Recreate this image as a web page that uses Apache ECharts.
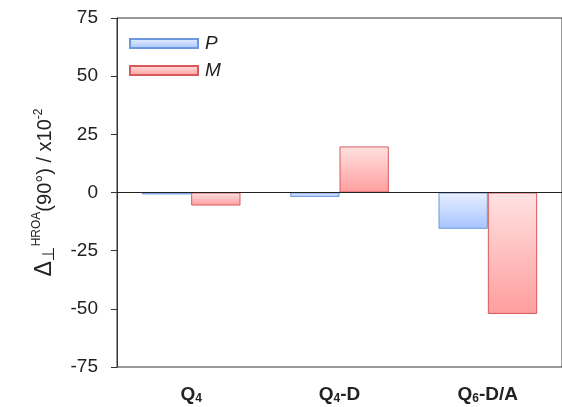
<!DOCTYPE html>
<html><head><meta charset="utf-8">
<script src="https://cdn.jsdelivr.net/npm/echarts@6/dist/echarts.min.js"></script>
<style>html,body{margin:0;padding:0;background:#fff}#c{width:562px;height:407px}</style>
</head><body><div id="c"></div>
<script>
const categories = ['Q4', 'Q4-D', 'Q6-D/A'];
const categoryLabels = ['{b|Q}{s|4}', '{b|Q}{s|4}{b|-D}', '{b|Q}{s|6}{b|-D/A}'];
const seriesP = [-0.8, -1.9, -15.6];
const seriesM = [-5.6, 19.8, -52.2];
const yTicks = [-75, -50, -25, 0, 25, 50, 75];

const chart = echarts.init(document.getElementById('c'));
function grad(a, b) {
  return new echarts.graphic.LinearGradient(0, 0, 0, 1, [{offset: 0, color: a}, {offset: 1, color: b}]);
}
const FF = 'Liberation Sans, Arial, sans-serif';
chart.setOption({
  animation: false,
  grid: {left: 117, top: 18, width: 454, height: 349, show: true, borderColor: '#333', borderWidth: 1, backgroundColor: 'transparent'},
  legend: {
    left: 124, top: 29, orient: 'vertical', itemWidth: 68, itemHeight: 9, itemGap: 8,
    icon: 'rect',
    textStyle: {fontFamily: FF, fontSize: 19, fontStyle: 'italic', color: '#222', padding: [0, 0, 0, 2]},
    data: ['P', 'M']
  },
  xAxis: {
    type: 'category', data: categories,
    axisLine: {show: false}, axisTick: {show: false},
    axisLabel: {
      margin: 17,
      formatter: (v, i) => categoryLabels[i],
      rich: {
        b: {fontFamily: FF, fontSize: 19, fontWeight: 'bold', color: '#222'},
        s: {fontFamily: FF, fontSize: 12, fontWeight: 'bold', color: '#222', padding: [9, 0, 0, 0]}
      }
    }
  },
  yAxis: {
    type: 'value', min: -75, max: 75, interval: 25,
    axisLine: {show: true, lineStyle: {color: '#333'}},
    axisTick: {show: true, length: 6, lineStyle: {color: '#333'}},
    splitLine: {show: false},
    axisLabel: {margin: 19, fontFamily: FF, fontSize: 19, color: '#222',
      formatter: v => yTicks.includes(v) ? String(v) : ''},
    name: '{d|Δ}{sub|⊥}{sup|HROA}{n|(90°) / x10}{sup2|-2}',
    nameLocation: 'middle', nameGap: 58, nameRotate: 90,
    nameTextStyle: {
      rich: {
        d: {fontFamily: FF, fontSize: 23, color: '#222'},
        sub: {fontFamily: 'DejaVu Sans', fontSize: 17, color: '#222', padding: [10, 0, 0, 0]},
        sup: {fontFamily: FF, fontSize: 12, color: '#222', padding: [0, 0, 16, 0]},
        sup2: {fontFamily: FF, fontSize: 12, color: '#222', padding: [0, 0, 12, 0]},
        n: {fontFamily: FF, fontSize: 20, color: '#222'}
      }
    }
  },
  series: [
    {name: 'P', type: 'bar', data: seriesP, barGap: '0%', barCategoryGap: '33.5%',
     itemStyle: {color: grad('#e8efff', '#a6c4ff'), borderColor: '#6b98dc', borderWidth: 1},
     markLine: {silent: true, symbol: 'none', label: {show: false},
       lineStyle: {color: '#222', width: 1, type: 'solid'}, data: [{yAxis: 0}]}},
    {name: 'M', type: 'bar', data: seriesM,
     itemStyle: {color: grad('#ffe2e2', '#ff9d9d'), borderColor: '#d85a5c', borderWidth: 1}}
  ]
});
</script></body></html>
